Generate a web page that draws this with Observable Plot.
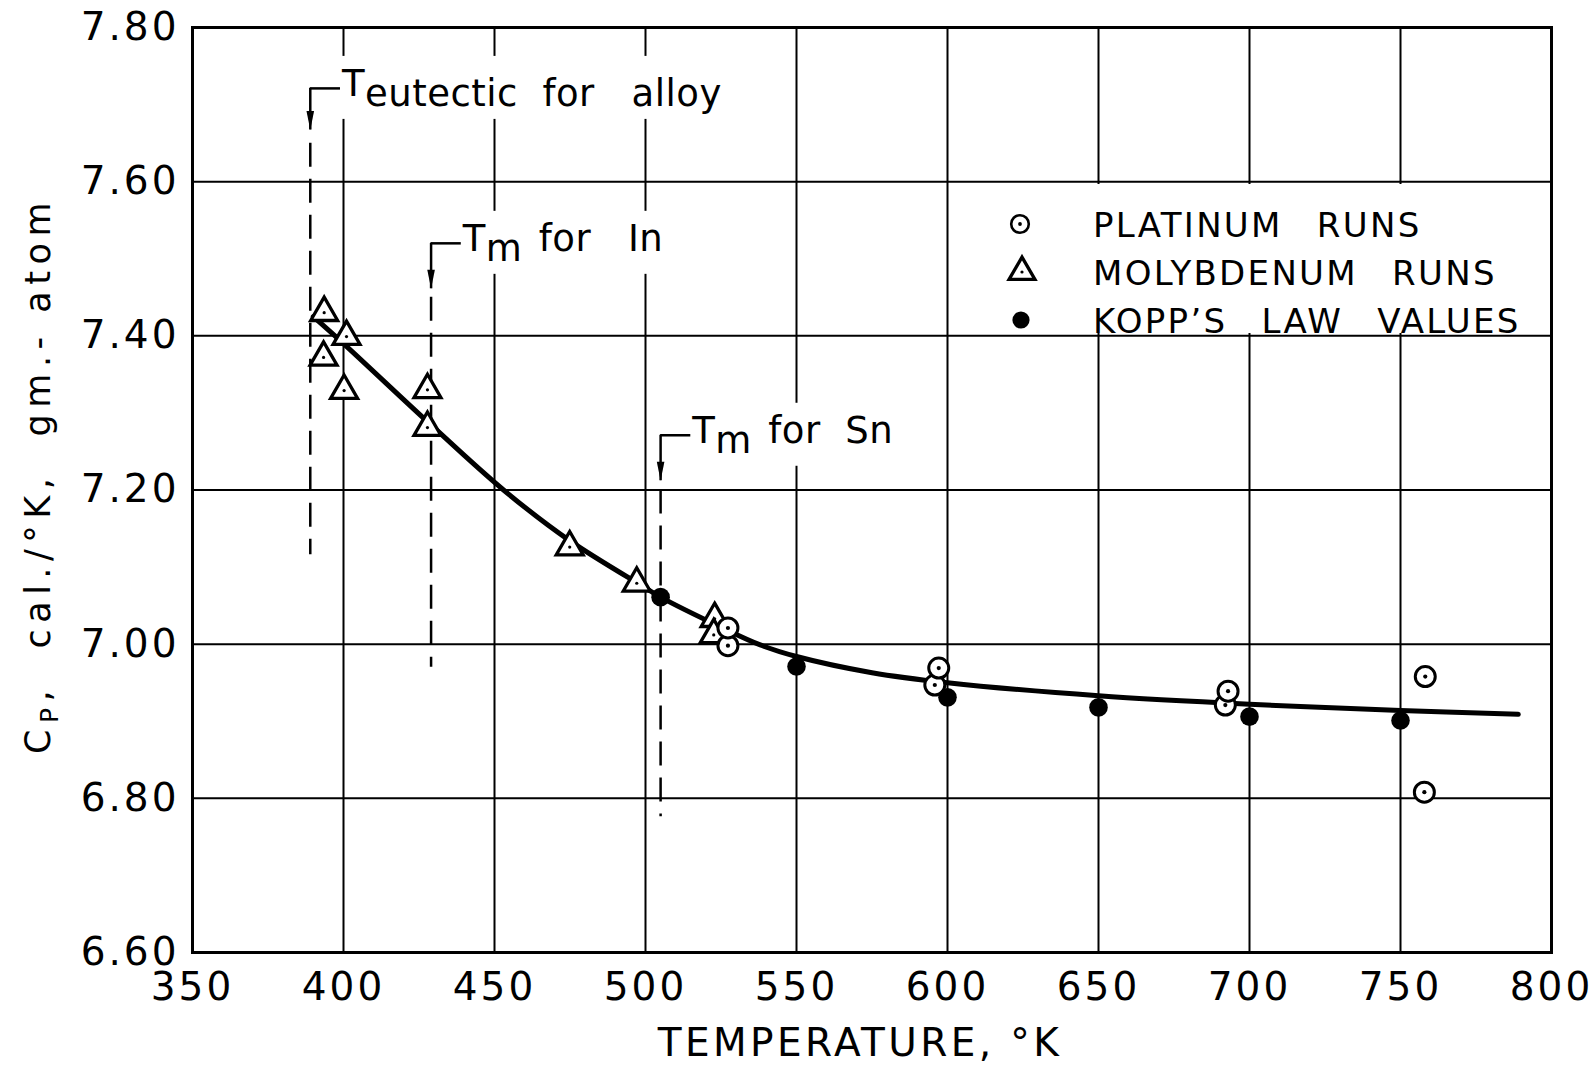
<!DOCTYPE html>
<html>
<head>
<meta charset="utf-8">
<script src="https://cdn.jsdelivr.net/npm/d3@7"></script>
<script src="https://cdn.jsdelivr.net/npm/@observablehq/plot@0.6"></script>
<style>
  body { margin: 0; background: #fff; }
  #chart { width: 1594px; height: 1065px; }
</style>
</head>
<body>
<div id="chart"></div>
<script>
// ---------- data ----------
const xTicks = [350, 400, 450, 500, 550, 600, 650, 700, 750, 800];
const yTicks = [6.6, 6.8, 7.0, 7.2, 7.4, 7.6, 7.8];

const platinumT  = [527.3, 527.3, 595.8, 597.1, 692.0, 692.9, 758.2, 757.9];
const platinumCp = [6.998, 7.021, 6.947, 6.969, 6.921, 6.939, 6.958, 6.808];

const molyT  = [393.6, 401.0, 393.4, 400.2, 427.8, 427.8, 474.9, 497.1, 522.9, 522.6];
const molyCp = [7.430, 7.399, 7.372, 7.329, 7.330, 7.281, 7.126, 7.079, 7.033, 7.012];

const koppT  = [505, 550, 600, 650, 700, 750];
const koppCp = [7.061, 6.971, 6.931, 6.918, 6.906, 6.901];

const curveT  = [390, 400, 428, 453, 475, 500, 505, 525, 538, 550, 575, 600, 650, 700, 750, 789];
const curveCp = [7.425, 7.390, 7.288, 7.200, 7.134, 7.073, 7.061, 7.022, 6.999, 6.984, 6.963, 6.950, 6.933, 6.922, 6.914, 6.909];

const transitionT     = [389, 429, 505];
const transitionSub   = ["eutectic\u00a0\u00a0for\u00a0\u00a0\u00a0alloy", "m", "m"];
const transitionRest  = ["", "for\u00a0\u00a0\u00a0In", "for\u00a0\u00a0Sn"];
const bracketCp       = [7.721, 7.520, 7.271];
const arrowTipCp      = [7.667, 7.461, 7.212];
const dashTopCp       = [7.650, 7.450, 7.200];
const dashBottomCp    = [7.116, 6.970, 6.776];

const legendLabels = ["PLATINUM RUNS", "MOLYBDENUM RUNS", "KOPP\u2019S LAW VALUES"];
const xLabel = "TEMPERATURE, \u00b0K";
const yLabelMain = "C", yLabelSub = "P", yLabelRest = ",\u00a0\u00a0cal./\u00b0K,\u00a0\u00a0gm.-\u00a0atom";

// ---------- tables ----------
const platinum = platinumT.map((t, i) => ({t, cp: platinumCp[i]}));
const moly = molyT.map((t, i) => ({t, cp: molyCp[i]}));
const kopp = koppT.map((t, i) => ({t, cp: koppCp[i]}));
const curve = curveT.map((t, i) => ({t, cp: curveCp[i]}));
const transitions = transitionT.map((t, i) => ({
  t, sub: transitionSub[i], rest: transitionRest[i],
  top: bracketCp[i], tip: arrowTipCp[i], d1: dashTopCp[i], d2: dashBottomCp[i]
}));

// ---------- styles ----------
const BRACKET = 10; // horizontal bracket length (kelvin)
const LINE_W = 2.5;
const arrowHead = {
  draw(ctx) {
    ctx.moveTo(0, 0);
    ctx.lineTo(-3.8, -19);
    ctx.lineTo(3.8, -19);
    ctx.closePath();
  }
};

const svg = Plot.plot({
  width: 1594,
  height: 1065,
  marginLeft: 192,
  marginRight: 43,
  marginTop: 27,
  marginBottom: 113,
  style: {fontFamily: "DejaVu Sans", fontSize: "39px", letterSpacing: "3px", background: "white", color: "black"},
  x: {domain: [350, 800], ticks: xTicks, tickSize: 0, tickPadding: 20, label: null},
  y: {domain: [6.6, 7.8], ticks: yTicks, tickSize: 0, tickPadding: 13, tickFormat: d3.format(".2f"), label: null},
  marks: [
    Plot.ruleX(xTicks, {stroke: "black", strokeWidth: 2}),
    Plot.ruleY(yTicks, {stroke: "black", strokeWidth: 2}),
    // brackets, arrows, dashed lines
    Plot.ruleY(transitions, {y: "top", x1: "t", x2: d => d.t + BRACKET, stroke: "black", strokeWidth: LINE_W}),
    Plot.ruleX(transitions, {x: "t", y1: "top", y2: "tip", stroke: "black", strokeWidth: LINE_W}),
    Plot.dot(transitions, {x: "t", y: "tip", symbol: arrowHead, fill: "black", stroke: "none"}),
    Plot.ruleX(transitions, {x: "t", y1: "d1", y2: "d2", stroke: "black", strokeWidth: LINE_W, strokeDasharray: "24,12"}),
    // fitted curve
    Plot.line(curve, {x: "t", y: "cp", curve: "catmull-rom", stroke: "black", strokeWidth: 5}),
    // molybdenum runs
    Plot.dot(moly, {x: "t", y: "cp", symbol: "triangle", r: 10, fill: "white", stroke: "black", strokeWidth: 3.3}),
    Plot.dot(moly, {x: "t", y: "cp", r: 1.6, fill: "black", stroke: "none"}),
    // platinum runs
    Plot.dot(platinum, {x: "t", y: "cp", r: 10, fill: "white", stroke: "black", strokeWidth: 3}),
    Plot.dot(platinum, {x: "t", y: "cp", r: 2.1, fill: "black", stroke: "none"}),
    // Kopp's law values
    Plot.dot(kopp, {x: "t", y: "cp", r: 9.3, fill: "black", stroke: "none"}),
    Plot.frame({stroke: "black", strokeWidth: 3})
  ]
});

document.getElementById("chart").appendChild(svg);
const sel = d3.select(svg);
const xs = svg.scale("x"), ys = svg.scale("y");

// annotation labels (T with subscript), on white boxes hiding the grid behind them
const grids = svg.querySelectorAll('g[aria-label="rule"]');
const labelLayer = document.createElementNS("http://www.w3.org/2000/svg", "g");
grids[1].after(labelLayer);
transitions.forEach(d => {
  const x0 = xs.apply(d.t + BRACKET) + 2;
  const y0 = ys.apply(d.top) + 8;
  const g = d3.select(labelLayer).append("g");
  const rect = g.append("rect").attr("fill", "white");
  const tx = g.append("text").attr("x", x0).attr("y", y0)
    .attr("text-anchor", "start").attr("fill", "black")
    .style("font-size", "37px").style("letter-spacing", "0.5px");
  tx.append("tspan").text("T");
  tx.append("tspan").attr("x", x0 + 23).attr("y", y0 + 10).text(d.sub);
  if (d.rest) tx.append("tspan").attr("x", x0 + 76).attr("y", y0).text(d.rest);
  const b = tx.node().getBBox();
  rect.attr("x", b.x - 6).attr("y", b.y - 6).attr("width", b.width + 12).attr("height", b.height + 10);
});

// x-axis title
sel.append("text")
  .attr("x", 860).attr("y", 1056)
  .attr("text-anchor", "middle")
  .style("font-size", "39px").style("letter-spacing", "3.4px")
  .attr("fill", "black")
  .text(xLabel);

// y-axis title with subscript
const yl = sel.append("text")
  .attr("transform", "translate(50,475) rotate(-90)")
  .attr("text-anchor", "middle")
  .style("font-size", "35px").style("letter-spacing", "6.5px")
  .attr("fill", "black");
yl.append("tspan").text(yLabelMain);
yl.append("tspan").attr("dy", 8).style("font-size", "25px").text(yLabelSub);
yl.append("tspan").attr("dy", -8).text(yLabelRest);

// legend (white box inside the plot area)
const lg = sel.append("g");
lg.append("rect").attr("x", 960).attr("y", 184).attr("width", 589).attr("height", 149).attr("fill", "white");
const rowsY = [224, 272, 320];
lg.append("circle").attr("cx", 1020).attr("cy", rowsY[0]).attr("r", 8.8)
  .attr("fill", "white").attr("stroke", "black").attr("stroke-width", 2.6);
lg.append("circle").attr("cx", 1020).attr("cy", rowsY[0]).attr("r", 1.9).attr("fill", "black");
lg.append("path").attr("d", d3.symbol(d3.symbolTriangle, 290)())
  .attr("transform", `translate(1022,${rowsY[1]})`)
  .attr("fill", "white").attr("stroke", "black").attr("stroke-width", 3.3);
lg.append("circle").attr("cx", 1022).attr("cy", rowsY[1]).attr("r", 1.6).attr("fill", "black");
lg.append("circle").attr("cx", 1021).attr("cy", rowsY[2]).attr("r", 8.6).attr("fill", "black");
legendLabels.forEach((label, i) => {
  lg.append("text").attr("x", 1093).attr("y", rowsY[i] + 12.5)
    .attr("text-anchor", "start")
    .style("font-size", "34px").style("letter-spacing", "2.3px").style("word-spacing", "21px")
    .attr("fill", "black").text(label);
});
</script>
</body>
</html>
